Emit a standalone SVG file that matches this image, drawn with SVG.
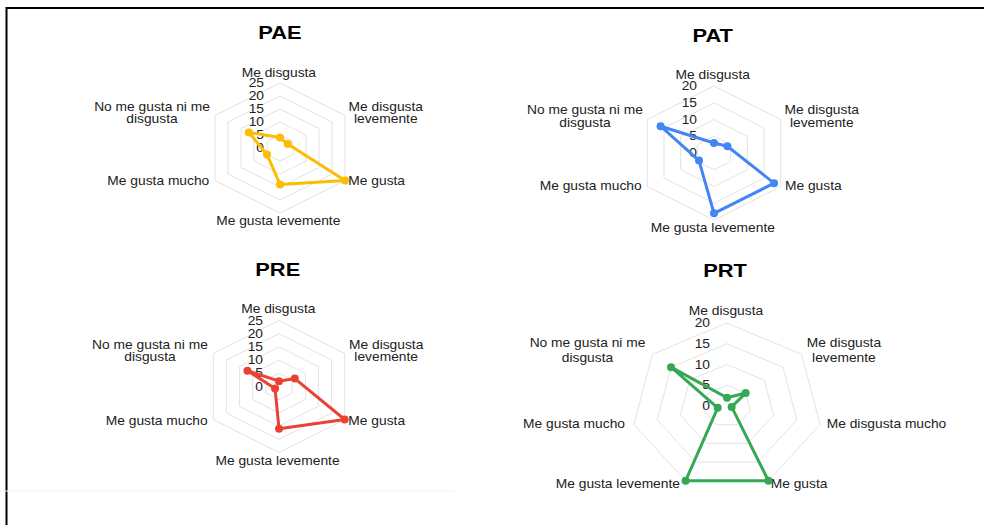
<svg xmlns="http://www.w3.org/2000/svg" width="984" height="525" viewBox="0 0 984 525">
<style>
text{font-family:"Liberation Sans",Arial,sans-serif;fill:#222}
.t{font-size:19px;font-weight:bold;fill:#000;text-anchor:middle}
.l{font-size:12px}
.m{text-anchor:middle}
.e{text-anchor:end}
.k{font-size:12px;text-anchor:end}
.g{fill:none;stroke:#e3e3e3;stroke-width:1}
.d{fill:none;stroke-width:3;stroke-linejoin:round}
.y{stroke:#fbbc04}.yf{fill:#fbbc04}
.b{stroke:#4285f4}.bf{fill:#4285f4}
.r{stroke:#ea4335}.rf{fill:#ea4335}
.n{stroke:#34a853}.nf{fill:#34a853}
</style>
<rect width="984" height="525" fill="#fff"/>
<path d="M6.5,525 V8 H984" fill="none" stroke="#000" stroke-width="2"/>
<line x1="0" y1="491" x2="455" y2="491" stroke="#f2f2f2" stroke-width="1"/>

<g id="pae" transform="translate(280,148)">
  <g class="grid">
    <polygon class="g" points="0,-13 13,-6.5 13,6.5 0,13 -13,6.5 -13,-6.5"/>
    <polygon class="g" points="0,-26 26,-13 26,13 0,26 -26,13 -26,-13"/>
    <polygon class="g" points="0,-39 39,-19.5 39,19.5 0,39 -39,19.5 -39,-19.5"/>
    <polygon class="g" points="0,-52 52,-26 52,26 0,52 -52,26 -52,-26"/>
    <polygon class="g" points="0,-65 65,-32.5 65,32.5 0,65 -65,32.5 -65,-32.5"/>
  </g>
  <g transform="scale(1.15,1)">
    <text class="t" x="0" y="-109.5">PAE</text>
    <text class="l m" x="-1" y="-71.5">Me disgusta</text>
    <text class="l m" x="92" y="-37.3">Me disgusta</text>
    <text class="l m" x="92" y="-24.7">levemente</text>
    <text class="l m" x="-111.3" y="-37.3">No me gusta ni me</text>
    <text class="l m" x="-111.3" y="-24.7">disgusta</text>
    <text class="l e" x="-61.5" y="37">Me gusta mucho</text>
    <text class="l" x="59.4" y="37">Me gusta</text>
    <text class="l m" x="-1.5" y="77">Me gusta levemente</text>
    <text class="k" x="-13.9" y="4">0</text>
    <text class="k" x="-13.9" y="-9">5</text>
    <text class="k" x="-13.9" y="-22">10</text>
    <text class="k" x="-13.9" y="-35">15</text>
    <text class="k" x="-13.9" y="-48">20</text>
    <text class="k" x="-13.9" y="-61">25</text>
  </g>
  <g class="series">
    <polygon class="d y" points="0,-10.4 7.8,-3.9 65,32.5 0,36.4 -13,6.5 -31.2,-15.6"/>
    <g class="yf">
      <circle cx="0" cy="-10.4" r="4"/><circle cx="7.8" cy="-3.9" r="4"/><circle cx="65" cy="32.5" r="4"/>
      <circle cx="0" cy="36.4" r="4"/><circle cx="-13" cy="6.5" r="4"/><circle cx="-31.2" cy="-15.6" r="4"/>
    </g>
  </g>
</g>

<g id="pat" transform="translate(714,153)">
  <g class="grid">
    <polygon class="g" points="0,-16.75 16.7,-8.4 16.7,8.4 0,16.75 -16.7,8.4 -16.7,-8.4"/>
    <polygon class="g" points="0,-33.5 33.4,-16.75 33.4,16.75 0,33.5 -33.4,16.75 -33.4,-16.75"/>
    <polygon class="g" points="0,-50.25 50,-25.1 50,25.1 0,50.25 -50,25.1 -50,-25.1"/>
    <polygon class="g" points="0,-67 66.7,-33.5 66.7,33.5 0,67 -66.7,33.5 -66.7,-33.5"/>
  </g>
  <g transform="scale(1.15,1)">
    <text class="t" x="-1.1" y="-111.3">PAT</text>
    <text class="l m" x="-1.1" y="-73.7">Me disgusta</text>
    <text class="l m" x="93.7" y="-38.7">Me disgusta</text>
    <text class="l m" x="93.7" y="-25.7">levemente</text>
    <text class="l m" x="-112.2" y="-38.7">No me gusta ni me</text>
    <text class="l m" x="-112.2" y="-25.7">disgusta</text>
    <text class="l e" x="-62.9" y="37">Me gusta mucho</text>
    <text class="l" x="61.7" y="37">Me gusta</text>
    <text class="l m" x="-1" y="78.7">Me gusta levemente</text>
    <text class="k" x="-14.8" y="4">0</text>
    <text class="k" x="-14.8" y="-12.75">5</text>
    <text class="k" x="-14.8" y="-29.5">10</text>
    <text class="k" x="-14.8" y="-46.25">15</text>
    <text class="k" x="-14.8" y="-63">20</text>
  </g>
  <g class="series">
    <polygon class="d b" points="0,-10.05 13.35,-6.7 60.06,30.15 0,60.3 -15,7.55 -53.4,-26.8"/>
    <g class="bf">
      <circle cx="0" cy="-10.05" r="4"/><circle cx="13.35" cy="-6.7" r="4"/><circle cx="60.06" cy="30.15" r="4"/>
      <circle cx="0" cy="60.3" r="4"/><circle cx="-15" cy="7.55" r="4"/><circle cx="-53.4" cy="-26.8" r="4"/>
    </g>
  </g>
</g>

<g id="pre" transform="translate(279,386.5)">
  <g class="grid">
    <polygon class="g" points="0,-13.2 13.1,-6.6 13.1,6.6 0,13.2 -13.1,6.6 -13.1,-6.6"/>
    <polygon class="g" points="0,-26.4 26.3,-13.2 26.3,13.2 0,26.4 -26.3,13.2 -26.3,-13.2"/>
    <polygon class="g" points="0,-39.6 39.4,-19.8 39.4,19.8 0,39.6 -39.4,19.8 -39.4,-19.8"/>
    <polygon class="g" points="0,-52.8 52.6,-26.4 52.6,26.4 0,52.8 -52.6,26.4 -52.6,-26.4"/>
    <polygon class="g" points="0,-66 65.7,-33 65.7,33 0,66 -65.7,33 -65.7,-33"/>
  </g>
  <g transform="scale(1.15,1)">
    <text class="t" x="-1.1" y="-110.5">PRE</text>
    <text class="l m" x="-0.6" y="-73.2">Me disgusta</text>
    <text class="l m" x="93.2" y="-38">Me disgusta</text>
    <text class="l m" x="93.2" y="-25.3">levemente</text>
    <text class="l m" x="-112.2" y="-38">No me gusta ni me</text>
    <text class="l m" x="-112.2" y="-25.3">disgusta</text>
    <text class="l e" x="-62" y="38.5">Me gusta mucho</text>
    <text class="l" x="60.3" y="38.5">Me gusta</text>
    <text class="l m" x="-1.3" y="78.5">Me gusta levemente</text>
    <text class="k" x="-13.9" y="4">0</text>
    <text class="k" x="-13.9" y="-9.2">5</text>
    <text class="k" x="-13.9" y="-22.4">10</text>
    <text class="k" x="-13.9" y="-35.6">15</text>
    <text class="k" x="-13.9" y="-48.8">20</text>
    <text class="k" x="-13.9" y="-62">25</text>
  </g>
  <g class="series">
    <polygon class="d r" points="0,-5.3 15.8,-7.92 65.7,33 0,42.2 -3.95,1.98 -31.55,-15.84"/>
    <g class="rf">
      <circle cx="0" cy="-5.3" r="4"/><circle cx="15.8" cy="-7.92" r="4"/><circle cx="65.7" cy="33" r="4"/>
      <circle cx="0" cy="42.2" r="4"/><circle cx="-3.95" cy="1.98" r="4"/><circle cx="-31.55" cy="-15.84" r="4"/>
    </g>
  </g>
</g>

<g id="prt" transform="translate(727,406)">
  <g class="grid">
    <polygon class="g" points="0,-20.75 18.66,-12.94 23.26,4.62 10.35,18.7 -10.35,18.7 -23.26,4.62 -18.66,-12.94"/>
    <polygon class="g" points="0,-41.5 37.31,-25.88 46.53,9.23 20.71,37.39 -20.71,37.39 -46.53,9.23 -37.31,-25.88"/>
    <polygon class="g" points="0,-62.25 55.97,-38.81 69.79,13.85 31.06,56.09 -31.06,56.09 -69.79,13.85 -55.97,-38.81"/>
    <polygon class="g" points="0,-83 74.6,-51.75 93.05,18.47 41.42,74.78 -41.42,74.78 -93.05,18.47 -74.6,-51.75"/>
  </g>
  <g transform="scale(1.15,1)">
    <text class="t" x="-1.7" y="-128.7">PRT</text>
    <text class="l m" x="-0.9" y="-91">Me disgusta</text>
    <text class="l m" x="101.7" y="-58.7">Me disgusta</text>
    <text class="l m" x="101.7" y="-44.3">levemente</text>
    <text class="l" x="86.7" y="22.3">Me disgusta mucho</text>
    <text class="l" x="38" y="82.3">Me gusta</text>
    <text class="l e" x="-40.9" y="82.3">Me gusta levemente</text>
    <text class="l e" x="-88.7" y="22.3">Me gusta mucho</text>
    <text class="l m" x="-121.3" y="-58.7">No me gusta ni me</text>
    <text class="l m" x="-121.3" y="-44.3">disgusta</text>
    <text class="k" x="-14.8" y="4">0</text>
    <text class="k" x="-14.8" y="-16.75">5</text>
    <text class="k" x="-14.8" y="-37.5">10</text>
    <text class="k" x="-14.8" y="-58.25">15</text>
    <text class="k" x="-14.8" y="-79">20</text>
  </g>
  <g class="series">
    <polygon class="d n" points="0,-8.3 18.66,-12.94 4.65,0.92 41.42,74.78 -41.42,74.78 -9.31,1.85 -55.97,-38.81"/>
    <g class="nf">
      <circle cx="0" cy="-8.3" r="4"/><circle cx="18.66" cy="-12.94" r="4"/><circle cx="4.65" cy="0.92" r="4"/>
      <circle cx="41.42" cy="74.78" r="4"/><circle cx="-41.42" cy="74.78" r="4"/><circle cx="-9.31" cy="1.85" r="4"/>
      <circle cx="-55.97" cy="-38.81" r="4"/>
    </g>
  </g>
</g>
</svg>
